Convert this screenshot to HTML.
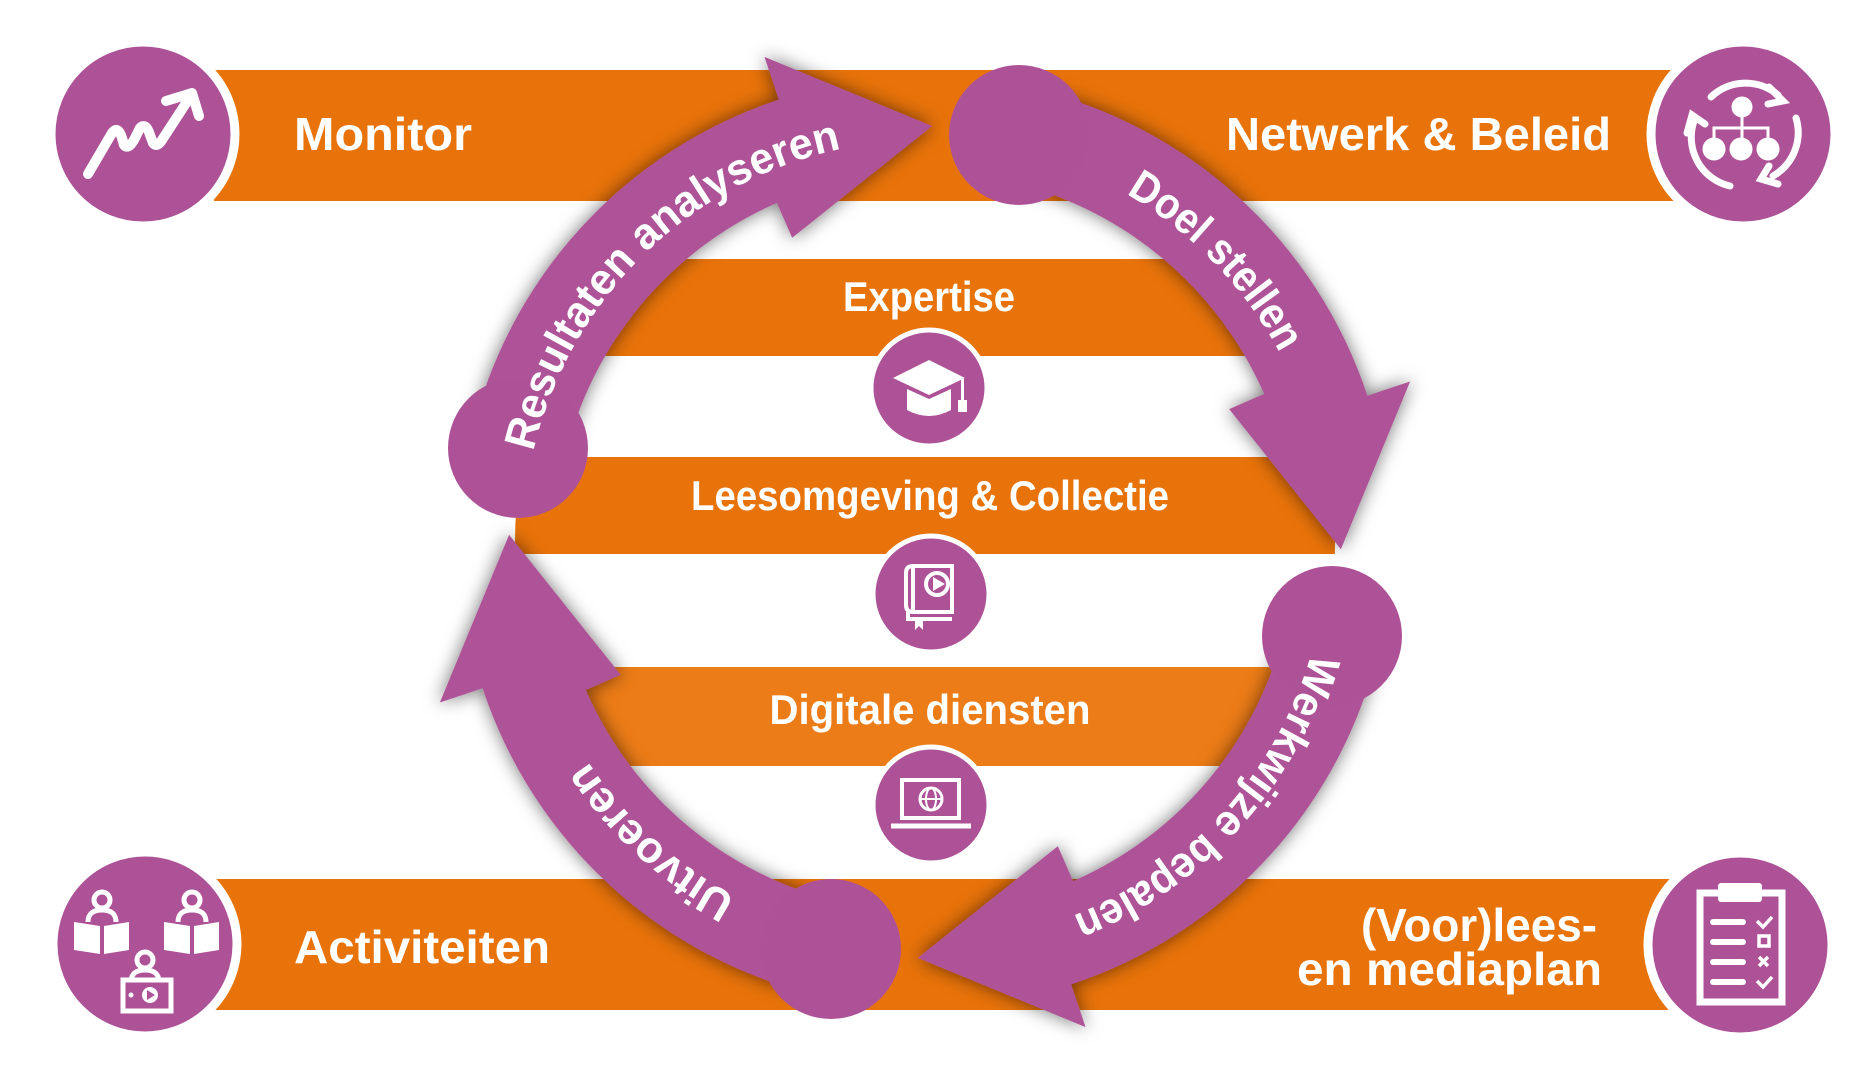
<!DOCTYPE html>
<html><head><meta charset="utf-8"><style>
html,body{margin:0;padding:0;background:#fff;}
svg{display:block;}
text{font-family:"Liberation Sans",sans-serif;font-weight:bold;fill:#fff;}
</style></head><body>
<svg width="1855" height="1075" viewBox="0 0 1855 1075" xmlns="http://www.w3.org/2000/svg">
<defs>
<clipPath id="inner"><circle cx="925" cy="542" r="410"/></clipPath>
<filter id="sh" x="-20%" y="-20%" width="140%" height="140%">
<feDropShadow dx="0" dy="0" stdDeviation="9" flood-color="#000" flood-opacity="0.55"/>
</filter>
<path id="t1" d="M533.3,451.6 A402,402 0 0 1 841.4,148.8"/>
<path id="t2" d="M1126,193.9 A402,402 0 0 1 1279.9,353.3"/>
<path id="t3" d="M1311.4,652.8 A402,402 0 0 1 1072.3,916"/>
<path id="t4" d="M736.3,896.9 A402,402 0 0 1 587.8,760.9"/>
<path id="arr" d="M1029.8,87.9 A466,466 0 0 1 1367.4,395.7 L1410.1,381.5 L1340.9,549.3 L1229.2,409.1 L1264.1,393.9 A370,370 0 0 0 1008.2,181.5 Z"/>
</defs>
<rect width="1855" height="1075" fill="#fff"/>
<!-- main bars -->
<rect x="214" y="70" width="1470" height="131" fill="#E8730A"/>
<rect x="214" y="879" width="1470" height="131" fill="#E8730A"/>
<!-- inner bars -->
<g clip-path="url(#inner)">
<rect x="400" y="259" width="1050" height="97" fill="#E8730A"/>
<rect x="400" y="457" width="1050" height="97" fill="#E8730A"/>
<rect x="400" y="667" width="1050" height="99" fill="#EC7C17"/>
</g>
<!-- inner labels -->
<text x="929" y="311" font-size="42" text-anchor="middle" textLength="172" lengthAdjust="spacingAndGlyphs">Expertise</text>
<text x="930" y="510" font-size="42" text-anchor="middle" textLength="478" lengthAdjust="spacingAndGlyphs">Leesomgeving &amp; Collectie</text>
<text x="930" y="724" font-size="42" text-anchor="middle" textLength="321" lengthAdjust="spacingAndGlyphs">Digitale diensten</text>
<!-- center icons -->
<g stroke="#fff" stroke-width="5" fill="#AE5297">
<circle cx="929" cy="388" r="58"/>
<circle cx="931" cy="594" r="58"/>
<circle cx="931" cy="805" r="58"/>
</g>
<g fill="#fff">
<path d="M893,378 L929,360 L965,378 L929,395 Z"/>
<path d="M907,389 L929,399 L951,389 L951,410 Q929,422 907,410 Z"/>
<rect x="961" y="379" width="3" height="22"/>
<rect x="958" y="400" width="9" height="12"/>
</g>
<g fill="none" stroke="#fff" stroke-width="4">
<path d="M913,566 L952,566 L952,612 L913,612 Q906,612 906,605 L906,573 Q906,566 913,566 Z"/>
<line x1="913" y1="566" x2="913" y2="612"/>
<circle cx="937" cy="584" r="11"/>
<path d="M908,612 L908,619 L952,619"/>
<rect x="902" y="780" width="57" height="38"/>
<line x1="891" y1="826" x2="971" y2="826" stroke-width="5"/>
<circle cx="931" cy="799" r="11" stroke-width="3"/>
<line x1="920" y1="799" x2="942" y2="799" stroke-width="2"/>
<ellipse cx="931" cy="799" rx="5" ry="11" stroke-width="2"/>
</g>
<g fill="#fff"><path d="M933,577 L945,584 L933,591 Z"/><path d="M915,619 L915,630 L919,626 L923,630 L923,619 Z"/></g>
<!-- ring arrows -->
<g fill="#AE5297" filter="url(#sh)">
<use href="#arr"/>
<use href="#arr" transform="rotate(90 925 542)"/>
<use href="#arr" transform="rotate(180 925 542)"/>
<use href="#arr" transform="rotate(270 925 542)"/>
</g>
<g fill="#AE5297">
<circle cx="1019" cy="135" r="70"/>
<circle cx="1332" cy="636" r="70"/>
<circle cx="831" cy="949" r="70"/>
<circle cx="518" cy="448" r="70"/>
</g>
<text font-size="44"><textPath href="#t1" textLength="456" lengthAdjust="spacingAndGlyphs">Resultaten analyseren</textPath></text>
<text font-size="44"><textPath href="#t2" textLength="224" lengthAdjust="spacingAndGlyphs">Doel stellen</textPath></text>
<text font-size="44"><textPath href="#t3" textLength="368" lengthAdjust="spacingAndGlyphs">Werkwijze bepalen</textPath></text>
<text font-size="44"><textPath href="#t4" textLength="203" lengthAdjust="spacingAndGlyphs">Uitvoeren</textPath></text>
<!-- corner circles -->
<g fill="#AE5297" stroke="#fff" stroke-width="9">
<circle cx="143" cy="134" r="92"/>
<circle cx="1743" cy="134" r="92"/>
<circle cx="145" cy="944" r="92"/>
<circle cx="1740" cy="945" r="92"/>
</g>
<!-- corner texts -->
<text x="294" y="150" font-size="46" textLength="178" lengthAdjust="spacingAndGlyphs">Monitor</text>
<text x="1611" y="150" font-size="46" text-anchor="end" textLength="385" lengthAdjust="spacingAndGlyphs">Netwerk &amp; Beleid</text>
<text x="294" y="963" font-size="46" textLength="256" lengthAdjust="spacingAndGlyphs">Activiteiten</text>
<text x="1597" y="941" font-size="46" text-anchor="end" textLength="236" lengthAdjust="spacingAndGlyphs">(Voor)lees-</text>
<text x="1602" y="985" font-size="46" text-anchor="end" textLength="305" lengthAdjust="spacingAndGlyphs">en mediaplan</text>
<!-- monitor icon -->
<g fill="none" stroke="#fff" stroke-width="10" stroke-linecap="round" stroke-linejoin="round">
<path d="M88,174 L112,133 Q118,125 122,138 L124,145 Q128,150 134,140 L140,128 Q146,122 150,135 L153,143 Q157,148 162,140 L190,97"/>
<path d="M166,101 L192,93 L199,116"/>
</g>
<!-- network icon -->
<g fill="none" stroke="#fff" stroke-width="7" stroke-linecap="round">
<path d="M1711,97 A50,50 0 0 1 1778,95"/>
<path d="M1796,118 A50,50 0 0 1 1773,176"/>
<path d="M1730,186 A50,50 0 0 1 1694,121"/>
<path d="M1769,87 L1783,101 L1768,104"/>
<path d="M1778,184 L1761,179 L1769,166"/>
<path d="M1687,133 L1692,115 L1705,124"/>
</g>
<g fill="#fff" stroke="#fff" stroke-width="3">
<circle cx="1742" cy="107" r="9"/>
<circle cx="1714" cy="149" r="10"/>
<circle cx="1741" cy="149" r="10"/>
<circle cx="1768" cy="149" r="10"/>
<path d="M1742,115 L1742,138 M1714,139 L1714,128 L1768,128 L1768,139" fill="none"/>
</g>
<!-- clipboard icon -->
<g fill="none" stroke="#fff" stroke-width="7">
<rect x="1700" y="893" width="82" height="109"/>
</g>
<g fill="#fff">
<rect x="1718" y="883" width="44" height="19" rx="3"/>
<rect x="1710" y="919" width="36" height="6" rx="3"/>
<rect x="1710" y="939" width="36" height="6" rx="3"/>
<rect x="1710" y="959" width="36" height="6" rx="3"/>
<rect x="1710" y="979" width="36" height="6" rx="3"/>
</g>
<g fill="none" stroke="#fff" stroke-width="3.5">
<path d="M1757,921 L1763,927 L1772,917"/>
<rect x="1759" y="936" width="10" height="10"/>
<path d="M1759,957 L1768,966 M1768,957 L1759,966"/>
<path d="M1757,981 L1763,987 L1772,977"/>
</g>
<!-- activiteiten icon -->
<g fill="none" stroke="#fff" stroke-width="5">
<circle cx="102" cy="900" r="8"/>
<circle cx="192" cy="900" r="8"/>
<circle cx="145" cy="960" r="8"/>
<path d="M88,922 Q88,910 102,910 Q116,910 116,922"/>
<path d="M178,922 Q178,910 192,910 Q206,910 206,922"/>
<path d="M131,982 Q131,970 145,970 Q159,970 159,982"/>
<rect x="123" y="980" width="48" height="31"/>
</g>
<g fill="#fff">
<path d="M74,922 L100,926 L100,954 L74,950 Z"/>
<path d="M104,926 L129,922 L129,950 L104,954 Z"/>
<path d="M164,922 L190,926 L190,954 L164,950 Z"/>
<path d="M194,926 L219,922 L219,950 L194,954 Z"/>
<circle cx="150" cy="995" r="8"/>
<circle cx="131" cy="995" r="2.5"/>
</g>
<path d="M147,990 L155,995 L147,1000 Z" fill="#AE5297"/>
</svg>
</body></html>
